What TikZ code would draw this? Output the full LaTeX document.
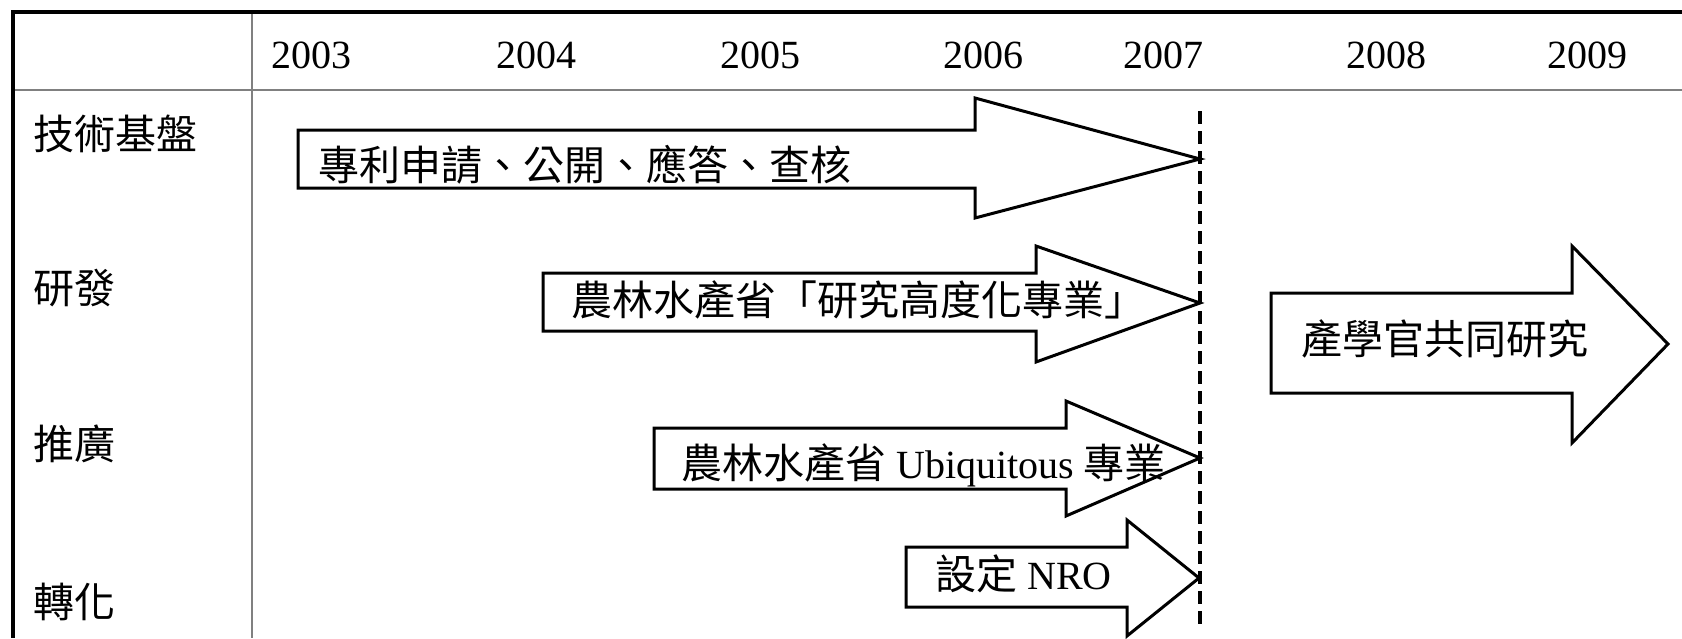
\documentclass[tikz,border=0pt]{standalone}
\usepackage{fontspec}
\setmainfont{Liberation Serif}
\newfontfamily\cjk{Noto Sans CJK TC}
\begin{document}
\begin{tikzpicture}[x=1pt,y=-1pt,
  frameline/.style={line width=4pt,black},
  gridline/.style={line width=2pt,gray},
  arrowshape/.style={line width=3pt,black,fill=white,line join=miter},
  cutline/.style={line width=4.5pt,black,dash pattern=on 13pt off 7pt},
  yearlabel/.style={anchor=base,inner sep=0pt,font=\fontsize{40}{40}\selectfont},
  rowlabel/.style={anchor=base west,inner sep=0pt,font=\fontsize{41}{41}\selectfont\cjk},
  arrowtext/.style={anchor=base west,inner sep=0pt,font=\fontsize{40}{40}\selectfont},
  cjktext/.style={anchor=base west,inner sep=0pt,font=\fontsize{41}{41}\selectfont\cjk}]
\useasboundingbox (0,0) rectangle (1682,638);
\fill[white] (0,0) rectangle (1682,638);
% table lines
\coordinate (tl) at (13,12);
\coordinate (tr) at (1682,12);
\coordinate (bl) at (13,638);
\draw[gridline] (252,12) -- (252,638);
\draw[gridline] (13,90) -- (1682,90);
\draw[frameline] (tr) -- (tl) -- (bl);
% years
\node[yearlabel] (y2003) at (311,68) {2003};
\node[yearlabel] (y2004) at (536,68) {2004};
\node[yearlabel] (y2005) at (760,68) {2005};
\node[yearlabel] (y2006) at (983,68) {2006};
\node[yearlabel] (y2007) at (1163,68) {2007};
\node[yearlabel] (y2008) at (1386,68) {2008};
\node[yearlabel] (y2009) at (1587,68) {2009};
% row labels
\node[rowlabel] (r1) at (33,149) {技術基盤};
\node[rowlabel] (r2) at (33,303) {研發};
\node[rowlabel] (r3) at (33,459) {推廣};
\node[rowlabel] (r4) at (33,617) {轉化};
% arrows: left, shaft top, shaft bottom, head base, head top, head bottom, tip x, tip y
\newcommand\fatarrow[8]{\draw[arrowshape] (#1,#2) -- (#4,#2) -- (#4,#5) -- (#7,#8) -- (#4,#6) -- (#4,#3) -- (#1,#3) -- cycle;}
\fatarrow{298}{130}{188}{975}{98}{218}{1200}{159}
\fatarrow{543}{273}{331}{1036}{246}{362}{1200}{303}
\fatarrow{654}{428}{489}{1066}{401}{516}{1200}{458}
\fatarrow{906}{547}{607}{1127}{520}{636}{1199}{578}
\fatarrow{1271}{293}{393}{1572}{246}{443}{1668}{344}
% dashed line
\coordinate (dtop) at (1200,111);
\coordinate (dbot) at (1200,628);
\draw[cutline] (dtop) -- (dbot);
% arrow texts
\node[cjktext] (t1) at (318,180) {專利申請、公開、應答、查核};
\node[cjktext] (t2) at (571,315) {農林水產省「研究高度化專業」};
\node[arrowtext] (t3) at (681,478) {{\fontsize{41}{41}\selectfont\cjk 農林水產省} Ubiquitous {\fontsize{41}{41}\selectfont\cjk 專業}};
\node[arrowtext] (t4) at (935,589) {{\fontsize{41}{41}\selectfont\cjk 設定} NRO};
\node[cjktext] (t5) at (1301,354) {產學官共同研究};
\end{tikzpicture}
\end{document}
